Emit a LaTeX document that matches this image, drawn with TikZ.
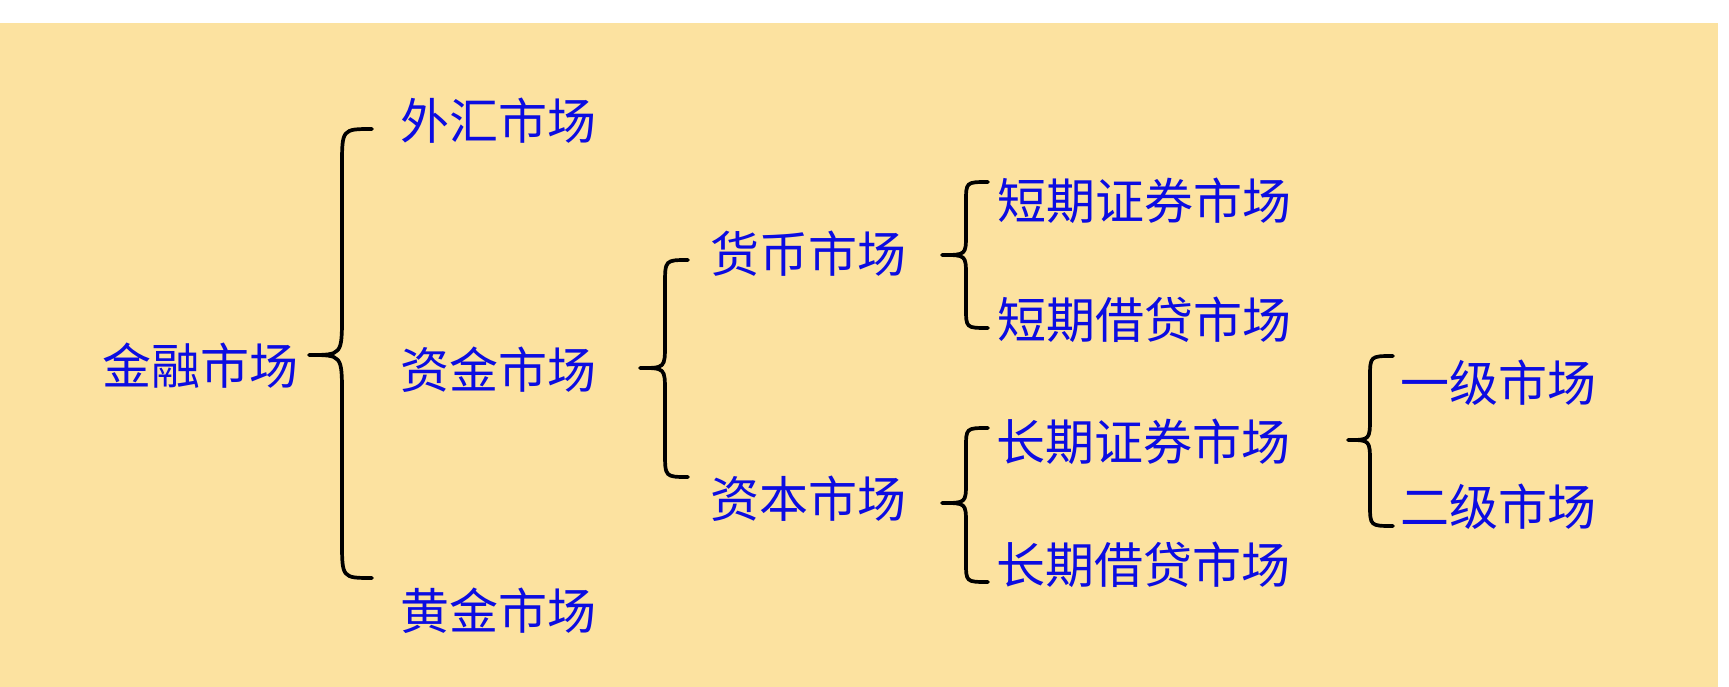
\documentclass[tikz,border=0pt]{standalone}
\usepackage{fontspec}
\newfontfamily\cjk{Noto Sans CJK SC}
\definecolor{bg}{RGB}{252,226,160}
\definecolor{txt}{RGB}{12,12,225}
\tikzset{
  lbl/.style={anchor=west,inner sep=0pt,font=\cjk\fontsize{49}{49}\selectfont,text=txt},
  br/.style={line width=3.7pt,line cap=round,line join=round,draw=black}
}
% #1 xe, #2 xv, #3 xt, #4 yt, #5 ym, #6 yb, #7 end radius, #8 middle radius
\newcommand\mybrace[8]{%
  \draw[br] (#1,#4) .. controls (#2,#4) .. (#2,{#4+#7})
    -- (#2,{#5-#8}) .. controls (#2,#5) .. (#3,#5)
    .. controls (#2,#5) .. (#2,{#5+#8})
    -- (#2,{#6-#7}) .. controls (#2,#6) .. (#1,#6);}
\begin{document}
\begin{tikzpicture}[x=1pt,y=-1pt]
\useasboundingbox (0,0) rectangle (1729,687);
\fill[white] (0,0) rectangle (1729,687);
\fill[bg] (0,23) rectangle (1718,687);

\node[lbl] (jr) at (102,366) {金融市场};
\node[lbl] (wh) at (400,121) {外汇市场};
\node[lbl] (zj) at (400,370) {资金市场};
\node[lbl] (hj) at (400,611) {黄金市场};
\node[lbl] (hb) at (710,254) {货币市场};
\node[lbl] (zb) at (710,499) {资本市场};
\node[lbl] (dz) at (997,201) {短期证券市场};
\node[lbl] (dj) at (997,320) {短期借贷市场};
\node[lbl] (cz) at (996,442) {长期证券市场};
\node[lbl] (cj) at (996,565) {长期借贷市场};
\node[lbl] (yj) at (1400,383) {一级市场};
\node[lbl] (ej) at (1400,507) {二级市场};

\mybrace{372}{342}{309}{129}{355}{578}{37}{40}
\mybrace{688}{665}{640}{260}{368}{477}{25}{24}
\mybrace{988}{966}{942}{182}{255}{328}{20}{21}
\mybrace{988}{966}{942}{428}{503}{582}{20}{21}
\mybrace{1393}{1370}{1348}{356}{440}{526}{22}{23}
\end{tikzpicture}
\end{document}
